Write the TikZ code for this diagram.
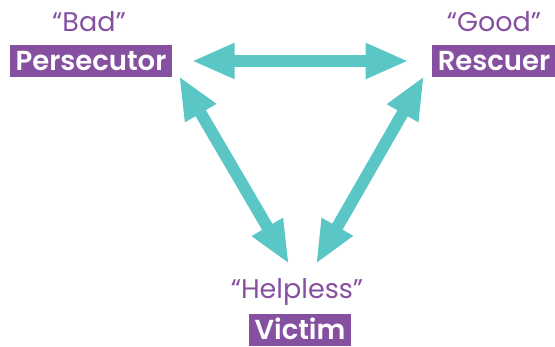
\documentclass[tikz,border=0pt]{standalone}
\usepackage{fontspec}
\setmainfont{Poppins}[BoldFont={Poppins SemiBold}]
\usetikzlibrary{arrows.meta, positioning, calc}
\definecolor{cpurple}{HTML}{8650A0}
\definecolor{cteal}{HTML}{5BC6C6}
\tikzset{
  every picture/.style={font=\fontsize{27}{30}\selectfont},
  role/.style={fill=cpurple, text=white, font=\fontsize{27.5}{30}\selectfont\bfseries, inner xsep=6pt, minimum height=32pt, text depth=0pt, text height=19.5pt},
  quote/.style={text=cpurple, font=\fontsize{27}{30}\selectfont},
  link/.style={{Triangle[length=43pt, width=33pt]}-{Triangle[length=43pt, width=33pt]}, draw=cteal, line width=12pt},
}

\begin{document}
\begin{tikzpicture}[x=1pt, y=-1pt]
  \useasboundingbox (0,0) rectangle (555,347);
  % the three roles
  \node[role] (per) at (91,61) {Persecutor};
  \node[role] (res) at (494,61) {Rescuer};
  \node[role] (vic) at (300,330) {Victim};
  \node[quote] (bad) at (89,22) {“Bad”};
  \node[quote] (good) at (494,22) {“Good”};
  \node[quote] (help) at (297,292) {“Helpless”};
  % arrow ends
  \coordinate (pv) at (179,76);
  \coordinate (vp) at (289,264);
  \coordinate (rv) at (424,76);
  \coordinate (vr) at (316,264);
  % links between the roles
  \draw[link, shorten <=19pt, shorten >=23pt] (per.east) -- (res.west);
  \draw[link] (pv) -- (vp);
  \draw[link] (rv) -- (vr);
\end{tikzpicture}
\end{document}
